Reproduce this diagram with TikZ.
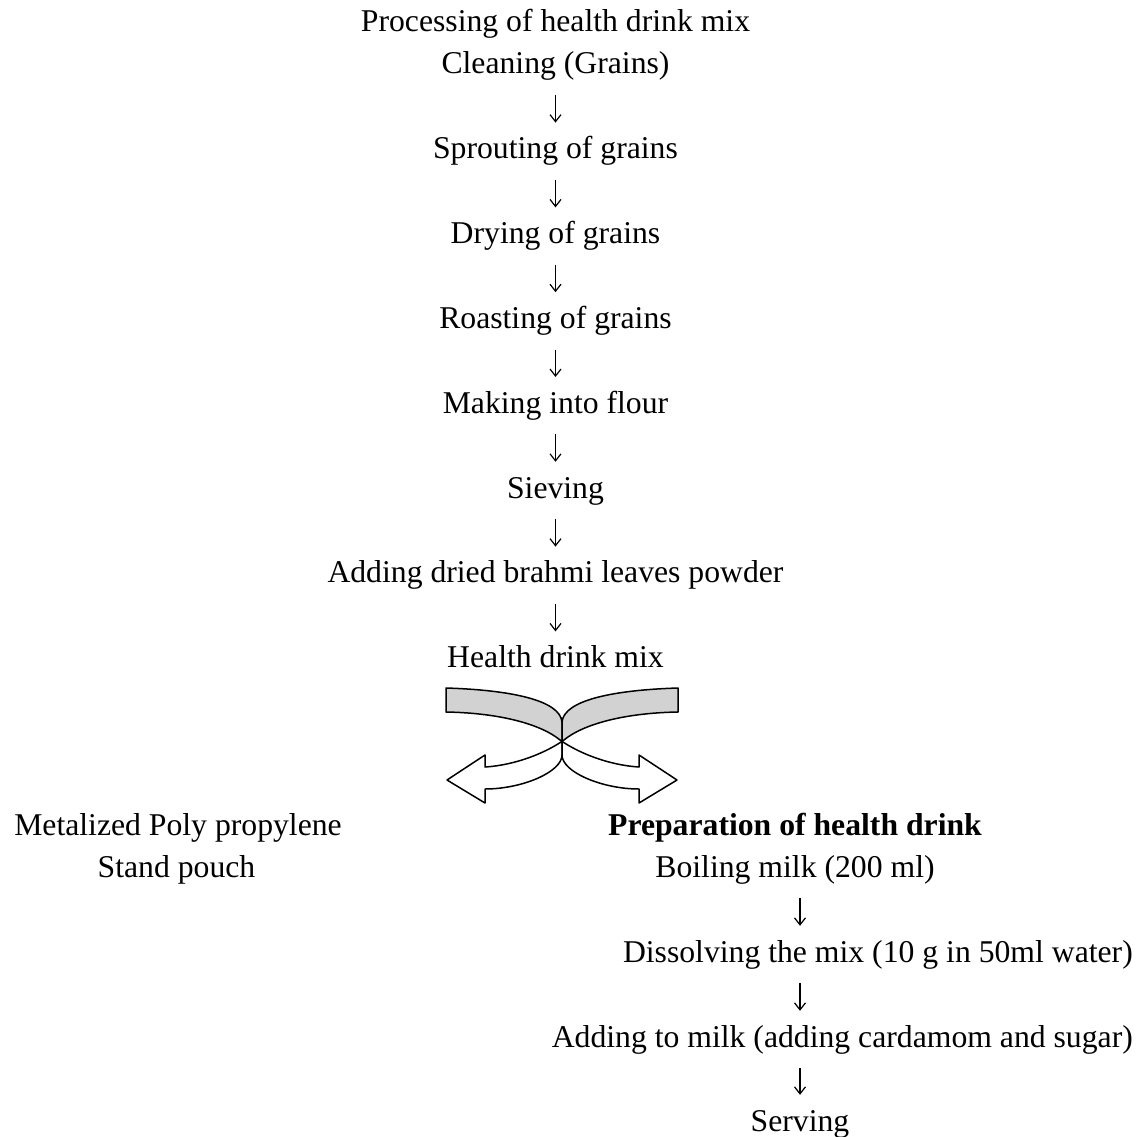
\documentclass[tikz,border=0pt]{standalone}
\usepackage{fontspec}
\setmainfont{Liberation Serif}
\usepackage{xcolor}
\usetikzlibrary{arrows.meta,positioning}
\definecolor{bandgray}{RGB}{210,210,210}

\begin{document}
\begin{tikzpicture}[x=1pt,y=-1pt,
  stage/.style={inner sep=0pt,text height=22pt,text depth=7pt,anchor=base,
    font=\fontsize{31.7}{38}\selectfont},
  flow/.style={-{Straight Barb[length=7pt,width=11pt]},line width=1.2pt,
    shorten <=14pt,shorten >=14pt},
  band/.style={line width=1.5pt,line join=round}]
  \useasboundingbox (0,0) rectangle (1143,1137);
  % processing of the mix
  \node[stage] (title)  at (555.5,32)    {Processing of health drink mix};
  \node[stage] (clean)  at (555.5,74)    {Cleaning (Grains)};
  \node[stage] (sprout) at (555.5,158.8) {Sprouting of grains};
  \node[stage] (dry)    at (555.5,243.6) {Drying of grains};
  \node[stage] (roast)  at (555.5,328.4) {Roasting of grains};
  \node[stage] (flour)  at (555.5,413.2) {Making into flour};
  \node[stage] (sieve)  at (555.5,498)   {Sieving};
  \node[stage] (brahmi) at (555.5,582.8) {Adding dried brahmi leaves powder};
  \node[stage] (mix)    at (555.5,667.6) {Health drink mix};
  \draw[flow] (clean) -- (sprout);
  \draw[flow] (sprout) -- (dry);
  \draw[flow] (dry) -- (roast);
  \draw[flow] (roast) -- (flour);
  \draw[flow] (flour) -- (sieve);
  \draw[flow] (sieve) -- (brahmi);
  \draw[flow] (brahmi) -- (mix);
  % twisted split arrows
  \begin{scope}[xshift=562pt]
    \begin{scope}
      \clip (-130,680) rectangle (0,760);
      \fill[bandgray] (-116,688) .. controls (-52,690) and (-2,700) .. (0,722) -- (0,755)
        .. controls (0,772) and (40,789) .. (77,789) -- (77,803) -- (115,780) -- (77,755) -- (77,767)
        .. controls (45,765) and (15,752) .. (-2,740) .. controls (-20,725) and (-60,713) .. (-116,712) -- cycle;
    \end{scope}
    \draw[band] (-116,688) .. controls (-52,690) and (-2,700) .. (0,722) -- (0,755)
      .. controls (0,772) and (40,789) .. (77,789) -- (77,803) -- (115,780) -- (77,755) -- (77,767)
      .. controls (45,765) and (15,752) .. (-2,740) .. controls (-20,725) and (-60,713) .. (-116,712) -- cycle;
  \end{scope}
  \begin{scope}[xshift=562pt,xscale=-1]
    \begin{scope}
      \clip (-130,680) rectangle (0,760);
      \fill[bandgray] (-116,688) .. controls (-52,690) and (-2,700) .. (0,722) -- (0,755)
        .. controls (0,772) and (40,789) .. (77,789) -- (77,803) -- (115,780) -- (77,755) -- (77,767)
        .. controls (45,765) and (15,752) .. (-2,740) .. controls (-20,725) and (-60,713) .. (-116,712) -- cycle;
    \end{scope}
    \draw[band] (-116,688) .. controls (-52,690) and (-2,700) .. (0,722) -- (0,755)
      .. controls (0,772) and (40,789) .. (77,789) -- (77,803) -- (115,780) -- (77,755) -- (77,767)
      .. controls (45,765) and (15,752) .. (-2,740) .. controls (-20,725) and (-60,713) .. (-116,712) -- cycle;
  \end{scope}
  % packaging
  \node[stage] (metal) at (178,835) {Metalized Poly propylene};
  \node[stage] (stand) at (176.5,877) {Stand pouch};
  % preparation of the drink
  \node[stage] (prep)  at (795,835)  {\bfseries Preparation of health drink};
  \node[stage] (boil)  at (795,877)  {Boiling milk (200 ml)};
  \node[stage,anchor=base east] (diss) at (1133,962)  {Dissolving the mix (10 g in 50ml water)};
  \node[stage,anchor=base east] (add)  at (1133,1047) {Adding to milk (adding cardamom and sugar)};
  \node[stage] (serve) at (800,1131) {Serving};
  \draw[flow] (boil.south -| serve) -- (diss.north -| serve);
  \draw[flow] (diss.south -| serve) -- (add.north -| serve);
  \draw[flow] (add.south -| serve) -- (serve);
\end{tikzpicture}
\end{document}
